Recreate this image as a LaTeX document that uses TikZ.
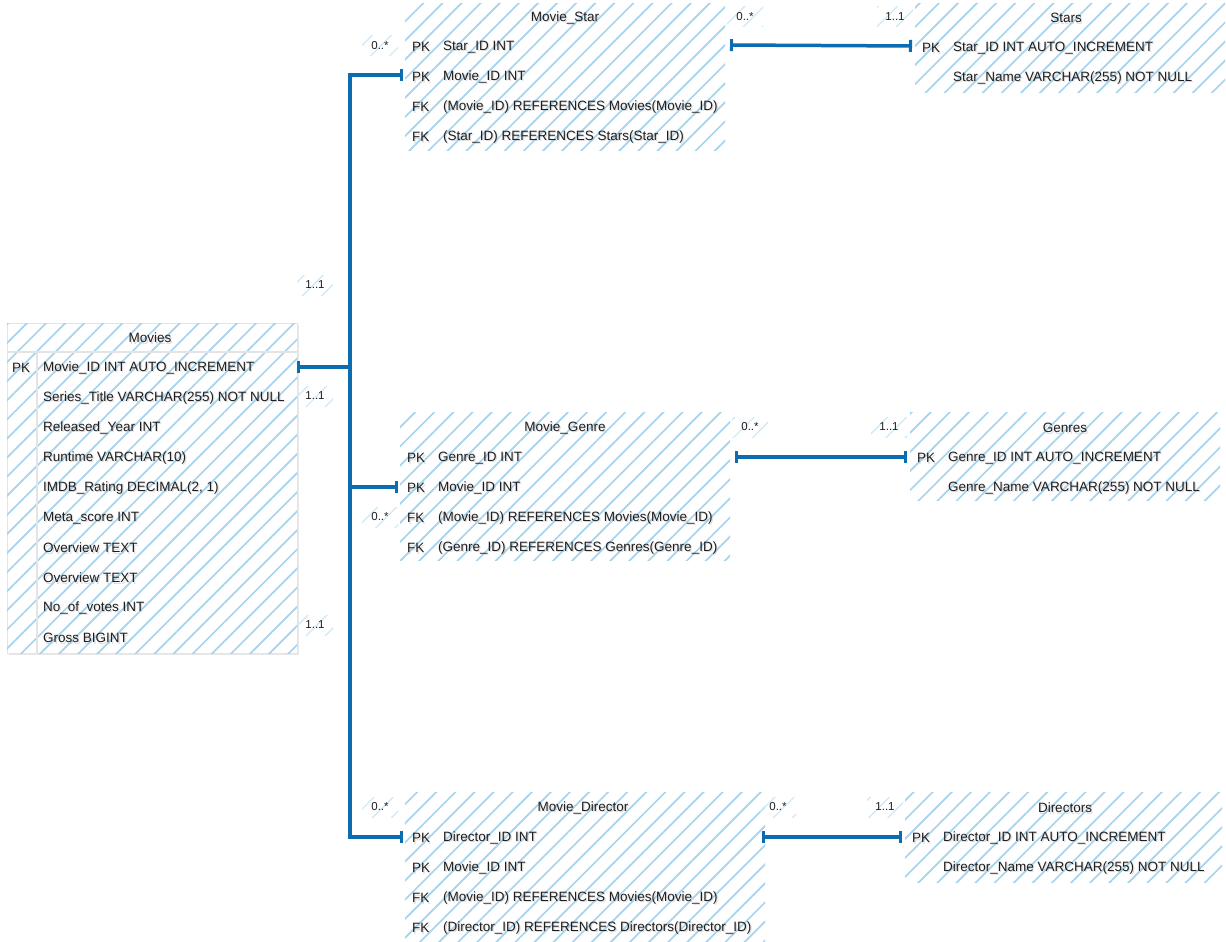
\documentclass[tikz,border=0pt]{standalone}
\usepackage{fontspec}
\setmainfont{Liberation Sans}
\usetikzlibrary{patterns.meta,arrows.meta,shadows}
\definecolor{hatch}{HTML}{A6D3EE}
\definecolor{hatchlt}{HTML}{CFE8F6}
\definecolor{relc}{HTML}{0B6DB0}
\definecolor{txtc}{HTML}{1E1E1E}
\definecolor{brd}{HTML}{E4E4E4}
\tikzset{
  tbl/.style={draw=none, inner sep=0pt, anchor=north west,
    pattern={Lines[angle=45,distance=13.5pt,line width=1.7pt]}, pattern color=hatch},
  fld/.style={font=\fontsize{13.5}{15}\selectfont, text=txtc, inner sep=0pt, anchor=west, yshift=-0.8pt},
  fldsh/.style={fld, text=black!30, opacity=0.45},
  ttl/.style={font=\fontsize{13.5}{15}\selectfont, text=txtc, inner sep=0pt, yshift=-0.8pt},
  card/.style={font=\fontsize{11.5}{13}\selectfont, text=txtc, inner sep=0pt,
    minimum width=36pt, minimum height=20pt,
    pattern={Lines[angle=45,distance=13.5pt,line width=1.2pt]}, pattern color=hatchlt},
  relline/.style={draw=relc, line width=3.5pt,
    {Bar[width=12pt,line width=3pt]}-{Bar[width=12pt,line width=3pt]}},
}
\newcommand\fieldtext[3]{%
  \node[fldsh, xshift=1.2pt, yshift=-1.6pt] (#1-s) at #2 {#3};
  \node[fld] (#1) at #2 {#3};}
\newcommand\titletext[3]{%
  \node[ttl, text=black!30, opacity=0.45, xshift=1.2pt, yshift=-1.6pt] (#1-s) at #2 {#3};
  \node[ttl] (#1) at #2 {#3};}
\begin{document}
\begin{tikzpicture}[x=1pt,y=-1pt]
\useasboundingbox (0,0) rectangle (1226,942);
\fill[white] (0,0) rectangle (1226,942);

% ---------- Movies ----------
\node[tbl, minimum width=290pt, minimum height=330pt, fill=white,
  draw=brd, line width=1.2pt, drop shadow={shadow xshift=1pt, shadow yshift=-1.5pt, opacity=0.18}] (movies) at (7,323) {};
\node[tbl, minimum width=290pt, minimum height=330pt] (movies-h) at (7,323) {};
\draw[brd, line width=1.5pt] (7,352) -- (297,352);
\draw[brd, line width=1.5pt] (37,352) -- (37,653);
\titletext{movies-t}{(150,337)}{Movies}
\fieldtext{mv-pk}{(12,367)}{PK}
\foreach \i/\t in {1/{Movie\_ID INT AUTO\_INCREMENT},2/{Series\_Title VARCHAR(255) NOT NULL},
  3/{Released\_Year INT},4/{Runtime VARCHAR(10)},5/{IMDB\_Rating DECIMAL(2, 1)},
  6/{Meta\_score INT},7/{Overview TEXT},8/{Overview TEXT},9/{No\_of\_votes INT},10/{Gross BIGINT}}{
  \fieldtext{mv-\i}{(43,337+30*\i)}{\t}
}

% ---------- Movie_Star ----------
\node[tbl, minimum width=320pt, minimum height=147pt] (ms) at (405,3) {};
\titletext{ms-t}{(565,17)}{Movie\_Star}
\fieldtext{ms-k1}{(412,46)}{PK}\fieldtext{ms-1}{(443,46)}{Star\_ID INT}
\fieldtext{ms-k2}{(412,76)}{PK}\fieldtext{ms-2}{(443,76)}{Movie\_ID INT}
\fieldtext{ms-k3}{(412,106)}{FK}\fieldtext{ms-3}{(443,106)}{(Movie\_ID) REFERENCES Movies(Movie\_ID)}
\fieldtext{ms-k4}{(412,136)}{FK}\fieldtext{ms-4}{(443,136)}{(Star\_ID) REFERENCES Stars(Star\_ID)}

% ---------- Stars ----------
\node[tbl, minimum width=310pt, minimum height=89pt] (st) at (915,3) {};
\titletext{st-t}{(1066,17)}{Stars}
\fieldtext{st-k1}{(922,47)}{PK}\fieldtext{st-1}{(953,47)}{Star\_ID INT AUTO\_INCREMENT}
\fieldtext{st-2}{(953,77)}{Star\_Name VARCHAR(255) NOT NULL}

% ---------- Movie_Genre ----------
\node[tbl, minimum width=330pt, minimum height=148pt] (mg) at (400,412) {};
\titletext{mg-t}{(565,427)}{Movie\_Genre}
\fieldtext{mg-k1}{(407,457)}{PK}\fieldtext{mg-1}{(438,457)}{Genre\_ID INT}
\fieldtext{mg-k2}{(407,487)}{PK}\fieldtext{mg-2}{(438,487)}{Movie\_ID INT}
\fieldtext{mg-k3}{(407,517)}{FK}\fieldtext{mg-3}{(438,517)}{(Movie\_ID) REFERENCES Movies(Movie\_ID)}
\fieldtext{mg-k4}{(407,547)}{FK}\fieldtext{mg-4}{(438,547)}{(Genre\_ID) REFERENCES Genres(Genre\_ID)}

% ---------- Genres ----------
\node[tbl, minimum width=310pt, minimum height=88pt] (gn) at (910,412) {};
\titletext{gn-t}{(1065,427)}{Genres}
\fieldtext{gn-k1}{(917,457)}{PK}\fieldtext{gn-1}{(948,457)}{Genre\_ID INT AUTO\_INCREMENT}
\fieldtext{gn-2}{(948,487)}{Genre\_Name VARCHAR(255) NOT NULL}

% ---------- Movie_Director ----------
\node[tbl, minimum width=360pt, minimum height=150pt] (md) at (405,792) {};
\titletext{md-t}{(583,807)}{Movie\_Director}
\fieldtext{md-k1}{(412,837)}{PK}\fieldtext{md-1}{(443,837)}{Director\_ID INT}
\fieldtext{md-k2}{(412,867)}{PK}\fieldtext{md-2}{(443,867)}{Movie\_ID INT}
\fieldtext{md-k3}{(412,897)}{FK}\fieldtext{md-3}{(443,897)}{(Movie\_ID) REFERENCES Movies(Movie\_ID)}
\fieldtext{md-k4}{(412,927)}{FK}\fieldtext{md-4}{(443,927)}{(Director\_ID) REFERENCES Directors(Director\_ID)}

% ---------- Directors ----------
\node[tbl, minimum width=317pt, minimum height=90pt] (dr) at (905,792) {};
\titletext{dr-t}{(1065,807)}{Directors}
\fieldtext{dr-k1}{(912,837)}{PK}\fieldtext{dr-1}{(943,837)}{Director\_ID INT AUTO\_INCREMENT}
\fieldtext{dr-2}{(943,867)}{Director\_Name VARCHAR(255) NOT NULL}

% ---------- connector end points ----------
\coordinate (mvR) at (297,367);
\coordinate (jn) at (350,367);
\coordinate (msL) at (403,75);
\coordinate (mgL) at (398,487);
\coordinate (mdL) at (403,837);
\coordinate (msR) at (730,45);
\coordinate (stL) at (912,46);
\coordinate (mgR) at (735,457);
\coordinate (gnL) at (907,457);
\coordinate (mdR) at (762,837);
\coordinate (drL) at (902,837);

% ---------- connectors ----------
\draw[relline] (mvR) -- (jn) |- (msL);
\draw[relline] (mvR) -- (jn) |- (mgL);
\draw[relline] (mvR) -- (jn) |- (mdL);
\draw[relline] (msR) -- (stL);
\draw[relline] (mgR) -- (gnL);
\draw[relline] (mdR) -- (drL);

% ---------- cardinalities ----------
\node[card] (c1) at (315,285) {1..1};
\node[card] (c2) at (315,396) {1..1};
\node[card] (c3) at (315,625) {1..1};
\node[card] (c4) at (380,46) {0..*};
\node[card] (c5) at (380,517) {0..*};
\node[card] (c6) at (380,807) {0..*};
\node[card] (c7) at (745,17) {0..*};
\node[card] (c8) at (895,17) {1..1};
\node[card] (c9) at (750,427) {0..*};
\node[card] (c10) at (889,427) {1..1};
\node[card] (c11) at (778,807) {0..*};
\node[card] (c12) at (885,807) {1..1};
\end{tikzpicture}
\end{document}
